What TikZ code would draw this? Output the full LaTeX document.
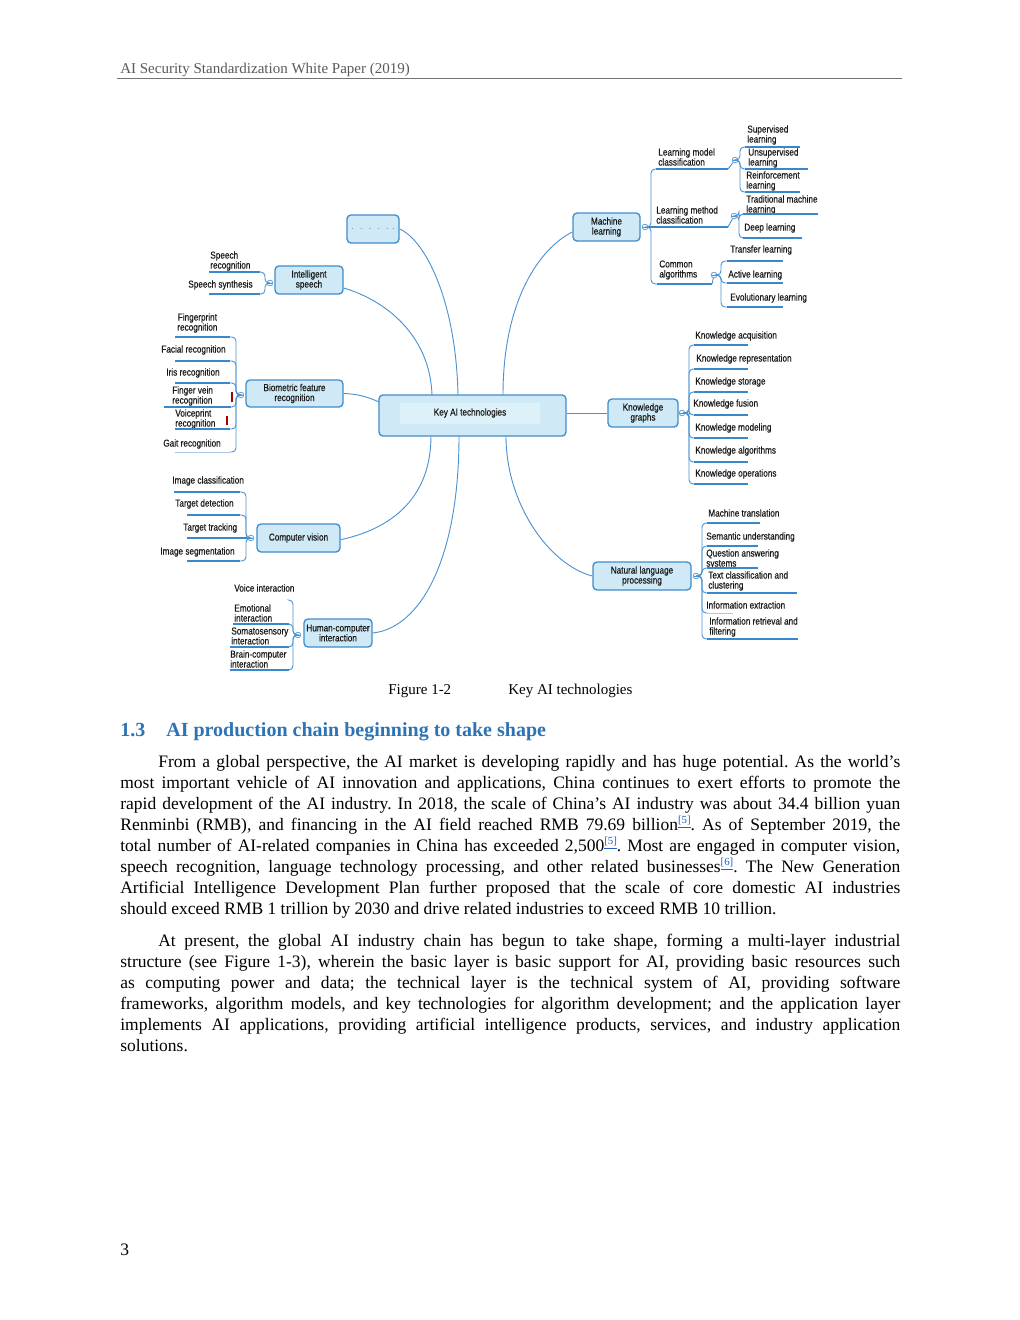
\documentclass[tikz,border=0pt]{standalone}
\usepackage{fontspec}
\setmainfont{Liberation Serif}
\newfontfamily\mapfont[FakeStretch=0.82,FakeBold=0.4]{Liberation Sans}
\usetikzlibrary{calc,fit}
\definecolor{boxfill}{HTML}{CFEAF6}
\definecolor{boxhl}{HTML}{DDF1F9}
\definecolor{boxline}{HTML}{3F8DCB}
\definecolor{cline}{HTML}{4A92D2}
\definecolor{ulcol}{HTML}{3A87C9}
\definecolor{hdgray}{HTML}{5A5A5A}
\definecolor{headblue}{HTML}{2E74B5}
\definecolor{reflink}{HTML}{1F5FBF}
\newlength{\bodyspace}
\tikzset{
 mbox/.style={draw=boxline, fill=boxfill, line width=0.8pt, rounded corners=2.4pt, inner sep=0pt},
 mtext/.style={font=\mapfont\fontsize{6}{6}\selectfont, text=black!90, align=center, inner sep=0pt},
 leaf/.style={font=\mapfont\fontsize{6}{6}\selectfont, text=black!90, align=left, inner sep=0pt, anchor=west},
 uline/.style={draw=ulcol, line width=1.7pt},
 thinul/.style={draw=ulcol!45, line width=0.6pt},
 conn/.style={draw=cline, line width=0.55pt},
 br/.style={draw=cline, line width=0.55pt, rounded corners=2.5pt},
 fold/.style={circle, draw=cline, fill=white, line width=0.4pt, minimum size=3.4pt, inner sep=0pt,
   path picture={\draw[cline, line width=0.35pt] ([xshift=-1pt]path picture bounding box.center) -- ([xshift=1pt]path picture bounding box.center);}},
 bodytext/.style={font=\fontsize{10.5}{12}\selectfont, inner sep=0pt, anchor=base west},
}
\newcommand{\mbx}[6]{%
  \coordinate (#1-a) at (#2,#3); \coordinate (#1-b) at (#4,#5);
  \node[mbox, fit=(#1-a)(#1-b)] (#1) {};
  \node[mtext] (#1-t) at (#1) {#6};}
\newcommand{\leaf}[7]{%
  \node[leaf] (#1) at (#2,#3) {#4};
  \coordinate (#1-s) at (#5,#7); \coordinate (#1-e) at (#6,#7);
  \draw[uline] (#1-s) -- (#1-e);}
\newcommand{\leafthin}[7]{%
  \node[leaf] (#1) at (#2,#3) {#4};
  \coordinate (#1-s) at (#5,#7); \coordinate (#1-e) at (#6,#7);
  \draw[thinul] (#1-s) -- (#1-e);}
\newcommand{\refm}[1]{\raisebox{3.8pt}{\fontsize{6.5}{6.5}\selectfont\color{reflink}\underline{[#1]}}}
\newcommand{\bline}[5]{\node[bodytext] (#1) at (#2,#3) {\spaceskip=0.25em plus 0.6em minus 0.12em\relax\hbox to #4pt{#5}};}

\begin{document}
\frenchspacing
\begin{tikzpicture}[x=0.6pt,y=-0.6pt]
\fill[white] (0,0) rectangle (1020,1320);
\useasboundingbox (0,0) rectangle (1020,1320);

% header
\node[anchor=base west, inner sep=0, font=\fontsize{9}{11}\selectfont, text=hdgray] (hdr) at (120,73.5) {AI Security Standardization White Paper (2019)};
\draw[hdgray!85, line width=1.1pt] (117,78.5) -- (902,78.5);

% ===== boxes =====
\mbx{key}{379}{395}{566}{436}{}
\fill[boxhl] (400,403) rectangle (540,424);
\node[mtext] (keyt) at (470,413) {Key AI technologies};
\mbx{dots}{347}{215}{399}{243}{\textcolor{black!45}{$\cdot\,\cdot\,\cdot\,\cdot\,\cdot\,\cdot$}}
\mbx{ml}{573}{213}{640}{241}{Machine\\learning}
\mbx{is}{275}{266}{343}{294}{Intelligent\\speech}
\mbx{bio}{246}{380}{343}{407}{Biometric feature\\recognition}
\mbx{kg}{608}{399}{678}{427}{Knowledge\\graphs}
\mbx{cv}{257}{524}{340}{552}{Computer vision}
\mbx{hci}{304}{619}{372}{647}{Human-computer\\interaction}
\mbx{nlp}{593}{562}{691}{590}{Natural language\\processing}

% ===== central connectors =====
\coordinate (kn1) at (432,395);
\coordinate (kn2) at (458,395);
\coordinate (kn3) at (503,395);
\coordinate (ks1) at (431,436);
\coordinate (ks2) at (459,436);
\coordinate (ks3) at (506,436);
\coordinate (kw) at (379,402);
\draw[conn] (dots.east) .. controls (425,240) and (456,300) .. (kn2);
\draw[conn] ([yshift=-4.8pt]is.east) .. controls (385,300) and (430,335) .. (kn1);
\draw[conn] ([yshift=-3pt]ml.west) .. controls (540,248) and (503,300) .. (kn3);
\draw[conn] (bio.east) .. controls (360,394) and (370,398) .. (kw);
\draw[conn] (key.east |- kg.west) -- (kg.west);
\draw[conn] (ks1) .. controls (431,495) and (395,528) .. ([yshift=-1pt]cv.east);
\draw[conn] (ks2) .. controls (459,560) and (420,628) .. (hci.east);
\draw[conn] (ks3) .. controls (506,505) and (550,565) .. (nlp.west);

% ===== Machine learning =====
\node[fold] (ml-c) at (645,227) {};
\leaf{lmc}{658}{157}{Learning model\\classification}{656}{728}{169}
\leaf{lmt}{656}{215}{Learning method\\classification}{649}{728}{227}
\leaf{ca}{659}{270}{Common\\algorithms}{657}{712}{284}
\draw[br] (ml-c.east) -- (651,227) |- (lmc-s);
\draw[br] (ml-c.east) -- (651,227) |- (ca-s);
\draw[conn] (ml-c.east) -- (lmt-s);

\node[fold] (lmc-c) at (735,160) {};
\draw[conn] (lmc-e) -- (lmc-c);
\leaf{sup}{747}{135}{Supervised\\learning}{745}{800}{147}
\leaf{uns}{748}{158}{Unsupervised\\learning}{745}{808}{169}
\leaf{rei}{746}{181}{Reinforcement\\learning}{745}{800}{192}
\draw[br] (lmc-c.east) -- (740,160) |- (sup-s);
\draw[br] (lmc-c.east) -- (740,160) |- (uns-s);
\draw[br] (lmc-c.east) -- (740,160) |- (rei-s);

\node[fold] (lmt-c) at (734,216) {};
\draw[conn] (lmt-e) -- (lmt-c);
\leaf{tra}{746}{205}{Traditional machine\\learning}{743}{818}{214}
\leaf{dee}{744}{228}{Deep learning}{743}{802}{238}
\draw[br] (lmt-c.east) -- (739,216) |- (tra-s);
\draw[br] (lmt-c.east) -- (739,216) |- (dee-s);

\node[fold] (ca-c) at (714,275) {};
\draw[conn] (ca-e) -- (ca-c);
\leaf{tl}{730}{250}{Transfer learning}{727}{783}{261}
\leaf{al}{728}{275}{Active learning}{727}{783}{283}
\leaf{el}{730}{298}{Evolutionary learning}{727}{783}{307}
\draw[br] (ca-c.east) -- (721,275) |- (tl-s);
\draw[br] (ca-c.east) -- (721,275) |- (al-s);
\draw[br] (ca-c.east) -- (721,275) |- (el-s);

% ===== Knowledge graphs =====
\node[fold] (kg-c) at (682,413) {};
\leaf{ka}{695}{336}{Knowledge acquisition}{694}{748}{345}
\leaf{kr}{696}{359}{Knowledge representation}{694}{748}{369}
\leaf{ks}{695}{382}{Knowledge storage}{694}{748}{392}
\leaf{kf}{693}{404}{Knowledge fusion}{694}{748}{415}
\leaf{km}{695}{428}{Knowledge modeling}{694}{748}{438}
\leaf{kal}{695}{451}{Knowledge algorithms}{694}{748}{462}
\leaf{ko}{695}{474}{Knowledge operations}{694}{748}{484}
\foreach \n in {ka,kr,ks,kf,km,kal,ko}{\draw[br] (kg-c.east) -- (689,413) |- (\n-s);}

% ===== NLP =====
\node[fold] (nlp-c) at (696,576) {};
\leaf{mt}{708}{513}{Machine translation}{707}{760}{523}
\leaf{su}{706}{537}{Semantic understanding}{707}{758}{546}
\leaf{qa}{706}{559}{Question answering\\systems}{707}{758}{568}
\leaf{tc}{708}{581}{Text classification and\\clustering}{707}{797}{593}
\leafthin{ie}{706}{605}{Information extraction}{707}{733}{613}
\leaf{ir}{709}{627}{Information retrieval and\\filtering}{707}{798}{639}
\foreach \n in {mt,su,qa,tc,ie,ir}{\draw[br] (nlp-c.east) -- (702,576) |- (\n-s);}

% ===== Intelligent speech =====
\node[fold] (is-c) at (270,283) {};
\leaf{sr}{210}{261}{Speech\\recognition}{209}{260}{272}
\leaf{ss}{188}{285}{Speech synthesis}{209}{260}{294}
\foreach \n in {sr,ss}{\draw[br] (is-c.west) -- (265,283) |- (\n-e);}

% ===== Biometric =====
\node[fold] (bio-c) at (241,395) {};
\node[leaf, align=center] (fp) at (177,323) {Fingerprint\\recognition};
\coordinate (fp-s) at (175,337); \coordinate (fp-e) at (230,337);
\draw[uline] (fp-s) -- (fp-e);
\leaf{fr}{161}{350}{Facial recognition}{175}{230}{361}
\leaf{irr}{166}{373}{Iris recognition}{175}{230}{383}
\leaf{fv}{172}{396}{Finger vein\\recognition}{164}{231}{407}
\leaf{vp}{175}{419}{Voiceprint\\recognition}{175}{230}{429}
\leafthin{gr}{163}{444}{Gait recognition}{175}{230}{452}
\foreach \n in {fp,fr,irr,fv,vp,gr}{\draw[br] (bio-c.west) -- (236,395) |- (\n-e);}
\draw[red!65!black, line width=0.7pt] (232,392) -- (232,402);
\draw[red!65!black, line width=0.7pt] (227,416) -- (227,425);

% ===== Computer vision =====
\node[fold] (cv-c) at (251,538) {};
\leaf{ic}{172}{481}{Image classification}{174}{240}{492}
\leaf{td}{175}{504}{Target detection}{187}{240}{515}
\leaf{tt}{183}{528}{Target tracking}{187}{247}{538}
\leaf{isg}{160}{552}{Image segmentation}{187}{240}{561}
\foreach \n in {ic,td,isg}{\draw[br] (cv-c.west) -- (246,538) |- (\n-e);}
\draw[conn] (cv-c.west) -- (tt-e);

% ===== HCI =====
\node[fold] (hci-c) at (298,635) {};
\node[leaf] (vi) at (234,588) {Voice interaction};
\coordinate (vi-e) at (289,600);
\leaf{ei}{234}{613}{Emotional\\interaction}{233}{289}{624}
\leaf{si}{231}{636}{Somatosensory\\interaction}{230}{289}{647}
\leaf{bc}{230}{659}{Brain-computer\\interaction}{230}{289}{670}
\foreach \n in {vi,ei,si,bc}{\draw[br] (hci-c.west) -- (293,635) |- (\n-e);}

% ===== caption & heading =====
\node[anchor=base west, inner sep=0, font=\fontsize{9}{11}\selectfont] (figno) at (388,694) {Figure 1-2};
\node[anchor=base west, inner sep=0, font=\fontsize{9}{11}\selectfont] (figcap) at (508,694) {Key AI technologies};
\node[anchor=base west, inner sep=0, font=\bfseries\fontsize{12}{14}\selectfont, text=headblue] (secno) at (120,736) {1.3};
\node[anchor=base west, inner sep=0, font=\bfseries\fontsize{12}{14}\selectfont, text=headblue] (sectitle) at (166,736) {AI production chain beginning to take shape};

% ===== body =====
\bline{a1}{158}{767}{445.2}{From a global perspective, the AI market is developing rapidly and has huge potential. As the world's}
\bline{a2}{120}{788}{468}{most important vehicle of AI innovation and applications, China continues to exert efforts to promote the}
\bline{a3}{120}{809}{468}{rapid development of the AI industry. In 2018, the scale of China's AI industry was about 34.4 billion yuan}
\bline{a4}{120}{830}{468}{Renminbi (RMB), and financing in the AI field reached RMB 79.69 billion\refm{5}. As of September 2019, the}
\bline{a5}{120}{851}{468}{total number of AI-related companies in China has exceeded 2,500\refm{5}. Most are engaged in computer vision,}
\bline{a6}{120}{872}{468}{speech recognition, language technology processing, and other related businesses\refm{6}. The New Generation}
\bline{a7}{120}{893}{468}{Artificial Intelligence Development Plan further proposed that the scale of core domestic AI industries}
\node[bodytext] (a8) at (120,914) {should exceed RMB 1 trillion by 2030 and drive related industries to exceed RMB 10 trillion.};

\bline{b1}{158}{946}{445.2}{At present, the global AI industry chain has begun to take shape, forming a multi-layer industrial}
\bline{b2}{120}{967}{468}{structure (see Figure 1-3), wherein the basic layer is basic support for AI, providing basic resources such}
\bline{b3}{120}{988}{468}{as computing power and data; the technical layer is the technical system of AI, providing software}
\bline{b4}{120}{1009}{468}{frameworks, algorithm models, and key technologies for algorithm development; and the application layer}
\bline{b5}{120}{1030}{468}{implements AI applications, providing artificial intelligence products, services, and industry application}
\node[bodytext] (b6) at (120,1051) {solutions.};

\node[bodytext] (pgno) at (120,1255) {3};
\end{tikzpicture}
\end{document}
